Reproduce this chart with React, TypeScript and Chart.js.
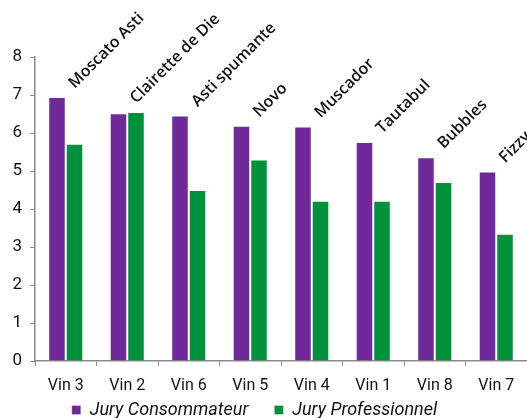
import React, { useEffect, useRef } from "react";
import { Chart, registerables } from "chart.js";

Chart.register(...registerables);

const categories = ["Vin 3", "Vin 2", "Vin 6", "Vin 5", "Vin 4", "Vin 1", "Vin 8", "Vin 7"];
const wineNames = ["Moscato Asti", "Clairette de Die", "Asti spumante", "Novo", "Muscador", "Tautabul", "Bubbles", "Fizzy"];
const consommateur = [6.95, 6.52, 6.46, 6.19, 6.17, 5.76, 5.36, 4.99];
const professionnel = [5.72, 6.55, 4.5, 5.3, 4.22, 4.22, 4.71, 3.35];
const yTicks = [0, 1, 2, 3, 4, 5, 6, 7, 8];

const PURPLE = "#70299B";
const GREEN = "#00913C";
const EDGE = "rgba(255,255,255,0.3)";
const AXIS = "#8a8a8a";
const LEGEND_PAD = 26;

const nameLabels = {
  id: "nameLabels",
  afterLayout(chart: any) {
    const lg = chart.legend;
    if (lg) {
      lg.top -= LEGEND_PAD - 2;
      lg.left -= 9;
      lg.right -= 9;
    }
  },
  afterDatasetsDraw(chart: any) {
    const { ctx, scales } = chart;
    const xs = scales.x;
    const ys = scales.y;
    ctx.save();
    ctx.font = "600 16px 'Open Sans'";
    ctx.fillStyle = "#111";
    ctx.textAlign = "left";
    ctx.textBaseline = "alphabetic";
    wineNames.forEach((name, i) => {
      const x = xs.getPixelForValue(i);
      const top = ys.getPixelForValue(Math.max(consommateur[i], professionnel[i]));
      ctx.save();
      ctx.translate(x + 9, top - 8);
      ctx.rotate(-Math.PI / 4);
      ctx.fillText(name, 0, 0);
      ctx.restore();
    });
    ctx.restore();
  },
};

export default function App() {
  const ref = useRef<HTMLCanvasElement>(null);
  useEffect(() => {
    if (!ref.current) return;
    const chart = new Chart(ref.current, {
      type: "bar",
      data: {
        labels: categories,
        datasets: [
          {
            label: "Jury Consommateur",
            data: consommateur,
            backgroundColor: PURPLE,
            borderColor: EDGE,
            borderWidth: 1,
            categoryPercentage: 0.57,
            barPercentage: 1,
          },
          {
            label: "Jury Professionnel",
            data: professionnel,
            backgroundColor: GREEN,
            borderColor: EDGE,
            borderWidth: 1,
            categoryPercentage: 0.57,
            barPercentage: 1,
          },
        ],
      },
      options: {
        animation: false,
        responsive: false,
        devicePixelRatio: 1,
        layout: { padding: { top: 57, right: 0, left: 0, bottom: 0 } },
        plugins: {
          legend: {
            position: "bottom",
            maxHeight: 19,
            labels: {
              boxWidth: 9,
              boxHeight: 9,
              padding: LEGEND_PAD,
              color: "#111",
              font: { family: "Roboto", size: 18, style: "italic" },
            },
          },
          tooltip: { enabled: false },
        },
        scales: {
          x: {
            offset: true,
            grid: { drawOnChartArea: false, drawTicks: true, tickLength: 5, color: AXIS, offset: true },
            border: { color: AXIS, width: 1.5 },
            ticks: { color: "#111", font: { family: "Roboto", size: 16 }, padding: 10 },
            afterFit: (s: any) => { s.height = 38; },
          },
          y: {
            min: 0,
            max: 8,
            afterBuildTicks: (s: any) => { s.ticks = yTicks.map((v) => ({ value: v })); },
            grid: { drawOnChartArea: false, drawTicks: true, tickLength: 5, color: AXIS },
            border: { color: AXIS, width: 1.5 },
            ticks: { color: "#111", font: { family: "Roboto", size: 17 }, padding: 8 },
            afterFit: (s: any) => { s.width = 35; },
          },
        },
      },
      plugins: [nameLabels],
    });
    return () => chart.destroy();
  }, []);
  return (
    <div style={{ position: "absolute", left: 0, top: 0, width: 527, height: 418, background: "#fff" }}>
      <canvas ref={ref} width={527} height={418} />
    </div>
  );
}
